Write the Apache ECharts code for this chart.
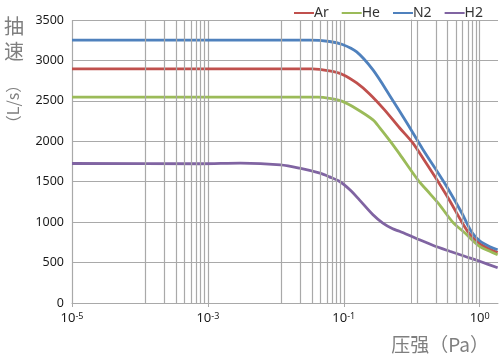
<!DOCTYPE html>
<html>
<head>
<meta charset="utf-8">
<script src="https://cdn.jsdelivr.net/npm/echarts@6/dist/echarts.min.js"></script>
<style>
html,body{margin:0;padding:0;background:#fff;}
#main{width:501px;height:359px;}
</style>
</head>
<body>
<div id="main"></div>
<script>
// x = log10(压强), y = 抽速 (L/s)
var arLogP = [-5, -1.46, -1.21, -1.02, -0.81, -0.62, -0.40, -0.18, 0.015, 0.19, 0.38, 0.56, 0.735, 0.85, 1.0, 1.15, 1.265]
var arSpeed = [2895, 2895, 2870, 2827, 2722, 2586, 2389, 2167, 1980, 1758, 1511, 1264, 1004, 856, 733, 665, 625]
var heLogP = [-5, -1.38, -1.21, -1.02, -0.81, -0.57, -0.47, -0.32, -0.18, 0.09, 0.27, 0.41, 0.60, 0.78, 1.0, 1.15, 1.265]
var heSpeed = [2545, 2545, 2530, 2493, 2400, 2265, 2166, 2005, 1844, 1523, 1350, 1214, 1004, 868, 699, 640, 597]
var n2LogP = [-5, -1.50, -1.21, -1.02, -0.81, -0.57, -0.32, -0.07, 0.16, 0.49, 0.735, 0.88, 1.0, 1.15, 1.265]
var n2Speed = [3250, 3250, 3234, 3197, 3105, 2882, 2561, 2227, 1906, 1474, 1116, 881, 770, 696, 659]
var h2LogP = [-5, -3.10, -2.52, -1.93, -1.65, -1.35, -1.21, -1.06, -0.91, -0.77, -0.57, -0.43, -0.28, -0.18, 0.06, 0.31, 0.56, 0.78, 1.0, 1.265]
var h2Speed = [1725, 1722, 1730, 1709, 1668, 1606, 1560, 1502, 1400, 1276, 1091, 992, 918, 887, 801, 714, 640, 578, 516, 436]

var gases = ['Ar', 'He', 'N2', 'H2']
var colors = ['#c0504d', '#9bbb59', '#4f81bd', '#8064a2']

// tick labels
var xTickVals = [-5, -3, -1, 1]
var xTickExp = ['-5', '-3', '-1', '0']
// minor grid lines inside each labelled step
var minorDecades = [-5, -3, -1]
var minorFactors = [12, 23, 34, 45, 56, 67, 78, 89]

var gridColor = '#a9a9a9'

function pairs(xs, ys){
	var out = []
	for(var i=0;i<xs.length;i++) out.push([xs[i], ys[i]])
	return out
}
var minorLines = []
for(var d=0;d<minorDecades.length;d++){
	for(var k=0;k<minorFactors.length;k++){
		minorLines.push({xAxis: minorDecades[d] + Math.log10(minorFactors[k])})
	}
}

var allX = [arLogP, heLogP, n2LogP, h2LogP]
var allY = [arSpeed, heSpeed, n2Speed, h2Speed]
var series = [{
	type: 'line', name: 'grid', data: [], z: 1, silent: true,
	markLine: {
		silent: true, symbol: ['none', 'none'], animation: false,
		label: {show: false},
		lineStyle: {color: gridColor, width: 1.2, type: 'solid'},
		data: minorLines
	}
}]
for(var i=0;i<gases.length;i++){
	series.push({
		type: 'line', name: gases[i], data: pairs(allX[i], allY[i]),
		symbol: 'none', smooth: 0.3, z: 3,
		lineStyle: {width: 2.8, color: colors[i]},
		itemStyle: {color: colors[i]}
	})
}

var mychart = echarts.init(document.getElementById('main'))
var option = {
	animation: false,
	textStyle: {fontFamily: '"Noto Sans", "Noto Sans CJK SC", sans-serif'},
	grid: {left: 72, right: 3, top: 20, bottom: 56},
	legend: {
		data: gases, right: 13, top: 1, icon: 'rect',
		itemWidth: 20, itemHeight: 2, itemGap: 13,
		textStyle: {fontSize: 14, color: '#333333', padding: [0, 0, 0, -5]}
	},
	xAxis: {
		type: 'value', min: -5, max: 1.27, interval: 2,
		axisLine: {lineStyle: {color: gridColor}},
		axisTick: {show: true, length: 4, lineStyle: {color: gridColor}},
		splitLine: {show: true, showMaxLine: false, lineStyle: {color: gridColor, width: 1.2}},
		axisLabel: {
			margin: 9, color: '#1a1a1a', showMaxLabel: false,
			formatter: function(v){
				var idx = xTickVals.indexOf(Math.round(v*100)/100)
				if(idx < 0) return ''
				return '{b|10}{s|' + xTickExp[idx] + '}'
			},
			rich: {
				b: {fontSize: 13, color: '#1a1a1a'},
				s: {fontSize: 9, color: '#1a1a1a', verticalAlign: 'top'}
			}
		}
	},
	yAxis: {
		type: 'value', min: 0, max: 3500, interval: 500,
		axisLine: {show: true, lineStyle: {color: gridColor}},
		axisTick: {show: true, length: 5, lineStyle: {color: gridColor}},
		splitLine: {lineStyle: {color: gridColor, width: 1.2}},
		axisLabel: {fontSize: 12.5, color: '#1a1a1a', margin: 8, formatter: function(v){ return String(v) }}
	},
	graphic: [
		{type: 'text', left: 4, top: 14, style: {text: '抽\n速', font: '20px "Noto Sans CJK SC"', fill: '#7f7f7f', lineHeight: 25}},
		{type: 'text', x: 13, y: 104, rotation: Math.PI/2,
			style: {text: '（L/s）', font: '16px "Noto Sans CJK SC"', fill: '#7f7f7f', textAlign: 'center', textVerticalAlign: 'middle'}},
		{type: 'text', x: 489, y: 345,
			style: {text: '压强（Pa）', font: '19px "Noto Sans CJK SC"', fill: '#7f7f7f', textAlign: 'right', textVerticalAlign: 'middle'}}
	],
	series: series
}
mychart.setOption(option)
</script>
</body>
</html>
